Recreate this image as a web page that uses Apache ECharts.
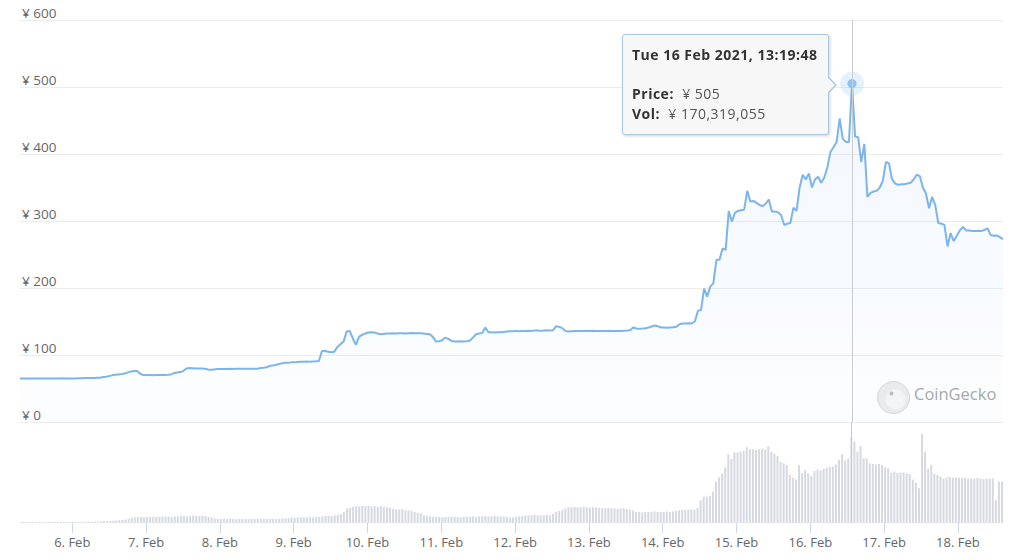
<!DOCTYPE html>
<html>
<head>
<meta charset="utf-8">
<script src="https://cdn.jsdelivr.net/npm/echarts@6/dist/echarts.min.js"></script>
<style>
html,body{margin:0;padding:0;background:#fff;}
#chart{width:1024px;height:560px;}
</style>
</head>
<body>
<div id="chart"></div>
<script>
// Hourly samples starting 5 Feb 2021 07:19:48
const startTime = new Date(2021, 1, 5, 7, 19, 48).getTime();
const stepMs = 3600000;

// Price in JPY (hourly)
const price = [
65,65,64.8,64.9,65,65,64.8,65,65.1,65,
65,64.9,65,65,65.2,65,65,65.1,65,65.2,
65.3,65.5,65.5,65.8,65.6,66,66.2,67,67.6,68.5,
70,70.5,71,71.5,72.5,74,75.5,76,76,72,
70,70,70,69.8,70,70,70,70.2,70.5,71,
73,74,74.5,76,80,80.5,80.3,80,79.8,79.7,
79.5,78.5,78,78.5,79,79,79.2,79,79.3,79.2,
79.4,79.3,79.5,79.4,79.5,79.6,79.5,79.6,80.5,81,
81.6,83.6,84.5,85,86.5,87.5,88.5,88.5,89,89,
89.5,90,90,90.2,90,90.3,90.5,91,106,106,
105,104,105,112,116,120,135,136,125,115,
127,130,132,133.5,134,133.5,132,131,131.5,132,
132,132.3,132,132.5,132.3,132,132.5,132.8,132.5,132.3,
132.5,132,131.5,131,127,120,120.5,122,126,124,
121,120,120,120.5,120,120.5,121.5,126,131,132,
133,141,134,134,133.5,134,134,134.5,135,135.5,
135.5,136,135.5,136,136,136.3,136,136.5,136.5,136,
136.5,136.8,136.5,137,143,142,140,136,135,135.5,
136,136,135.8,136,136.2,136,136.3,136,135.8,136,
136,136.2,136,135.8,136,136,136.3,136.5,136.8,141,
139.5,139,139.5,140,141,142.5,144,143,141,141,
140.5,141,141.5,142,146,147,147,147.5,147,150,
166,167,199,187,202,207,242,242,259,257,
315,299,312,315,316,317,345,329,330,327,
324,322,326,332,314,314,313,309,294,296,
297,320,315,350,369,362,371,350,362,366,
357,365,380,403,410,418,453,423,418,418,
505,426,425,388,415,336,342,344,345,350,
360,388,386,362,356,354,355,355,356,357,
362,369,367,350,341,319,336,324,297,296,
294,262,282,270,278,286,291,286,286,285,
285,285.5,285,287,289,279,278,278.5,276,273
];

// Volume in millions of JPY (hourly)
const volumeM = [
2,2,2,1.8,2,2,2.2,2,2,2,
2,2.2,2,2,2,2.2,2,2,2.3,2,
2.2,2.3,2.5,2.5,2.8,3,3,3.5,3.5,4,
4.5,5,5.5,6,7,8,10,11,12,12,
11,12,12,12.5,12,12,13,12.5,13,12,
13,13,14,14,13,14,15,14,14,15,
14,12,11,9,8,8,8.5,8,8,8,
7.5,8,8,8,7.5,8,8,8,8.5,8,
8,8,8.5,8,8,9,9,10,11,10,
11,11,11,11,11.5,11,12,12,13,14,
14,14,15,16,18,22,29,30,32,33,
33,34,33,34,33,33,32,33,32,31,
30,28,27,27,27,26,25,24,22,20,
19,16,14,13,12,12,12,11,12,12,
12,12,12,11,12,12,12,13,12,13,
13,14,13,13,14,13,13,13,12,11,
11,12,13,14,15,15,15,16,15,15,
15,16,15,18,22,24,26,29,31,31,
32,31,31,32,31,30,31,31,30,29,
29,30,29,29,28,29,29,28,27,25,
22,22,21,22,22,22,23,22,22,22,
23,22,23,24,25,26,26,26,27,26,
30,45,52,52,54,62,82,90,98,110,
136,127,140,140,141,143,150,146,146,145,
146,147,146,152,141,137,133,121,118,115,
95,90,86,115,99,105,98,93,103,106,
104,107,109,111,112,116,125,136,124,128,
170.319055,161,141,152,128,128,118,117,116,117,
114,110,108,100,102,99,100,100,98,97,
86,80,69,176,141,108,115,98,95,92,
88,90,91,90,90,90,89,90,88,88,
88,89,88,87,88,88,88,45,82,82
];

const priceTicks = [0, 100, 200, 300, 400, 500, 600];
const monthLabel = 'Feb';
const highlightIndex = 270;

const times = price.map((_, i) => startTime + i * stepMs);
const priceData = times.map((t, i) => [t, price[i]]);
const volData = times.map((t, i) => [t, volumeM[i] * 1e6]);

const lineColor = '#7cb5ec';
const font = "'Open Sans', 'Noto Sans', sans-serif";

function fmtTip(i) {
  const d = new Date(times[i]);
  const days = ['Sun','Mon','Tue','Wed','Thu','Fri','Sat'];
  const months = ['Jan','Feb','Mar','Apr','May','Jun','Jul','Aug','Sep','Oct','Nov','Dec'];
  const p2 = n => (n < 10 ? '0' : '') + n;
  const title = days[d.getDay()] + ' ' + d.getDate() + ' ' + months[d.getMonth()] + ' ' + d.getFullYear() +
    ', ' + p2(d.getHours()) + ':' + p2(d.getMinutes()) + ':' + p2(d.getSeconds());
  const vol = Math.round(volumeM[i] * 1e6).toLocaleString('en-US');
  return '<div style="position:relative;line-height:19.5px;letter-spacing:0.5px;">' +
    '<b>' + title + '</b><br><br>' +
    '<b>Price:</b>&nbsp; <span style="color:#555">¥ ' + price[i] + '</span><br>' +
    '<b>Vol:</b>&nbsp; <span style="color:#555">¥ ' + vol + '</span>' +
    '</div>' +
    '<div style="position:absolute;right:-9px;top:42px;width:0;height:0;border-top:8px solid transparent;border-bottom:8px solid transparent;border-left:8px solid #a8c8ea;"></div>' +
    '<div style="position:absolute;right:-7px;top:43px;width:0;height:0;border-top:7px solid transparent;border-bottom:7px solid transparent;border-left:7px solid #f7f7f7;"></div>';
}

const chart = echarts.init(document.getElementById('chart'), null, {renderer: 'svg'});
const xMin = times[0], xMax = times[times.length - 1];

chart.setOption({
  animation: false,
  backgroundColor: '#ffffff',
  axisPointer: { link: [{ xAxisIndex: 'all' }] },
  grid: [
    { left: 20, right: 21, top: 20, bottom: 138 },
    { left: 20, right: 21, top: 422, bottom: 37 }
  ],
  tooltip: {
    trigger: 'axis',
    triggerOn: 'none',
    alwaysShowContent: true,
    transitionDuration: 0,
    position: [622, 34],
    backgroundColor: '#f7f7f7',
    borderColor: '#a8c8ea',
    borderWidth: 1,
    padding: [10, 11, 11, 9],
    textStyle: { fontFamily: font, fontSize: 14, color: '#333333' },
    extraCssText: 'box-shadow:1px 1px 3px rgba(0,0,0,0.18);border-radius:3px;overflow:visible;',
    axisPointer: { type: 'line', lineStyle: { color: '#cccccc', width: 1, type: 'solid' }, label: { show: false } },
    formatter: function (params) {
      const p = Array.isArray(params) ? params[0] : params;
      return fmtTip(p.dataIndex);
    }
  },
  xAxis: [
    {
      type: 'time', gridIndex: 0, min: xMin, max: xMax,
      axisLine: { show: false }, axisTick: { show: false }, axisLabel: { show: false },
      splitLine: { show: false },
      axisPointer: { lineStyle: { color: '#cccccc', width: 1, type: 'solid' } }
    },
    {
      type: 'time', gridIndex: 1, min: xMin, max: xMax,
      minInterval: 86400000, maxInterval: 86400000,
      axisLine: { show: false },
      axisTick: { show: true, length: 10, lineStyle: { color: '#ccd6eb' } },
      splitLine: { show: false },
      axisPointer: { lineStyle: { color: '#cccccc', width: 1, type: 'solid' } },
      axisLabel: {
        show: true, margin: 12, color: '#666666', fontSize: 13, fontFamily: font,
        showMinLabel: false, showMaxLabel: false,
        formatter: function (v) { return new Date(v).getDate() + '. ' + monthLabel; }
      }
    }
  ],
  yAxis: [
    {
      type: 'value', gridIndex: 0, min: priceTicks[0], max: priceTicks[priceTicks.length - 1], interval: 100,
      axisLine: { show: false }, axisTick: { show: false },
      splitLine: { show: true, lineStyle: { color: '#ececec', width: 1 } },
      axisLabel: {
        inside: true, margin: 2, color: '#666666', fontSize: 13.5, fontFamily: font,
        verticalAlign: 'bottom', padding: [0, 0, 0, 0],
        formatter: function (v) { return '¥ ' + v; }
      }
    },
    {
      type: 'value', gridIndex: 1, min: 0, max: 200e6,
      axisLine: { show: false }, axisTick: { show: false }, axisLabel: { show: false },
      splitLine: { show: false }
    }
  ],
  series: [
    {
      type: 'line', xAxisIndex: 0, yAxisIndex: 0, data: priceData,
      showSymbol: false, symbol: 'circle', symbolSize: 8,
      lineStyle: { color: lineColor, width: 2 },
      itemStyle: { color: lineColor },
      areaStyle: {
        color: new echarts.graphic.LinearGradient(0, 0, 0, 1, [
          { offset: 0, color: 'rgba(124,181,236,0.14)' },
          { offset: 1, color: 'rgba(124,181,236,0.03)' }
        ])
      },
      emphasis: { disabled: true },
      z: 3
    },
    {
      type: 'scatter', xAxisIndex: 0, yAxisIndex: 0, silent: true,
      data: [priceData[highlightIndex]], symbolSize: 22,
      itemStyle: { color: 'rgba(124,181,236,0.28)' }, z: 4
    },
    {
      type: 'scatter', xAxisIndex: 0, yAxisIndex: 0, silent: true,
      data: [priceData[highlightIndex]], symbolSize: 8,
      itemStyle: { color: lineColor }, z: 5
    },
    {
      type: 'bar', xAxisIndex: 1, yAxisIndex: 1, data: volData,
      barWidth: 2, itemStyle: { color: '#d6d9e0' },
      emphasis: { disabled: true }
    }
  ],
  graphic: [
    {
      type: 'group', left: 877, top: 381, silent: true,
      children: [
        { type: 'circle', shape: { cx: 16, cy: 16, r: 16 }, style: { fill: '#ececec', stroke: '#d6d6d6', lineWidth: 1 } },
        { type: 'circle', shape: { cx: 18, cy: 18, r: 10 }, style: { fill: '#f6f6f6' } },
        { type: 'circle', shape: { cx: 14, cy: 12, r: 2 }, style: { fill: '#bdbdbd' } }
      ]
    },
    {
      type: 'text', left: 914, top: 385, silent: true,
      style: { text: 'CoinGecko', fill: '#a8a8a8', fontSize: 16.5, fontFamily: font }
    }
  ]
});

chart.dispatchAction({ type: 'showTip', seriesIndex: 0, dataIndex: highlightIndex });
</script>
</body>
</html>
